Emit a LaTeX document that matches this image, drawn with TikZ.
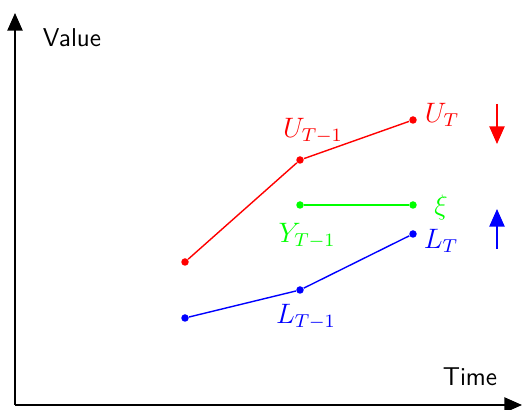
\documentclass[tikz,border=0pt]{standalone}
\usepackage{amsmath}
\usepackage{tikz}
\usetikzlibrary{arrows.meta, positioning}

\begin{document}
\begin{tikzpicture}[
            x=0.015cm, y=-0.015cm,
            axis/.style ={-{Triangle[length=7.5pt, width=6.5pt]}, semithick, black},
            dot/.style  ={circle, fill, inner sep=0pt, minimum size=3.2pt},
            trend/.style={-{Triangle[length=7.5pt, width=6.5pt]}, semithick},
            lab/.style  ={inner sep=1pt, font=\large},
            axlab/.style={font=\fontsize{11}{13}\selectfont\sffamily}
        ]
            \useasboundingbox (0,0) rectangle (523,410);

            % axes
            \coordinate (origin) at (15,405);
            \coordinate (ytop)   at (15,13);
            \coordinate (xend)   at (522,405);
            \draw[axis] (origin) -- (ytop);
            \draw[axis] (origin) -- (xend);
            \node[axlab] (value) at (72,38)  {Value};
            \node[axlab] (time)  at (470,377) {Time};

            % upper band
            \node[dot, red] (u0) at (185,262) {};
            \node[dot, red] (u1) at (300,160) {};
            \node[dot, red] (uT) at (413,120) {};
            \draw[red, semithick] (u0) -- (u1) -- (uT);
            \node[lab, red] (lu1) at (313,131) {$U_{T-1}$};
            \node[lab, red] (luT) at (442,115) {$U_T$};

            % observed value
            \node[dot, green] (y1) at (300,205) {};
            \node[dot, green] (yT) at (413,205) {};
            \draw[green, semithick] (y1) -- (yT);
            \node[lab, green] (ly1) at (307,236) {$Y_{T-1}$};
            \node[lab, green] (lxi) at (441,207) {$\xi$};

            % lower band
            \node[dot, blue] (l0) at (185,318) {};
            \node[dot, blue] (l1) at (300,290) {};
            \node[dot, blue] (lT) at (413,234) {};
            \draw[blue, semithick] (l0) -- (l1) -- (lT);
            \node[lab, blue] (ll1) at (306,317) {$L_{T-1}$};
            \node[lab, blue] (llT) at (441,241) {$L_T$};

            % direction marks
            \coordinate (rtop) at (497,104);
            \coordinate (rbot) at (497,144);
            \coordinate (btop) at (497,209);
            \coordinate (bbot) at (497,249);
            \draw[trend, red]  (rtop) -- (rbot);
            \draw[trend, blue] (bbot) -- (btop);

        \end{tikzpicture}
\end{document}
